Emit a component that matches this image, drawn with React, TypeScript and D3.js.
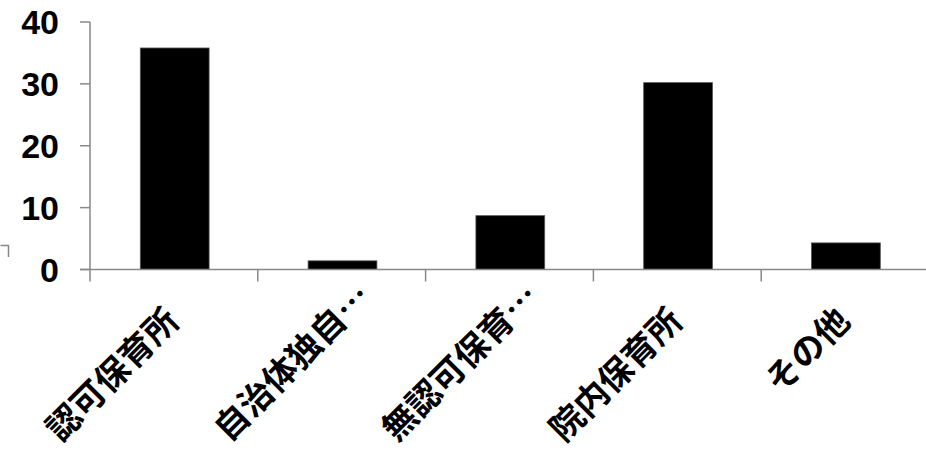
import React from "react";
import * as d3 from "d3";

const categories = ["認可保育所", "自治体独自…", "無認可保育…", "院内保育所", "その他"];
const values = [35.8, 1.4, 8.7, 30.2, 4.3];
const yTicks = [0, 10, 20, 30, 40];

const W = 926;
const H = 452;

export default function App() {
  const x = d3.scaleBand<string>().domain(categories).range([90, 90 + 5 * 167.8]).padding(0);
  const y = d3.scaleLinear().domain([0, 40]).range([269.5, 22]);
  const bw = x.bandwidth();
  const barW = bw * 0.41;
  const axisColor = "#888888";
  return (
    <svg width={W} height={H} style={{ position: "absolute", left: 0, top: 0, display: "block", background: "#fff" }}>
      <path d="M0.5,245.5 H8.5 V257" fill="none" stroke={axisColor} strokeWidth={1.5} />
      {categories.map((c, i) => (
        <rect
          key={c}
          x={(x(c) as number) + bw / 2 - barW / 2 + 0.8}
          y={y(values[i])}
          width={barW}
          height={y(0) - y(values[i])}
          fill="#000"
          stroke="#555"
          strokeWidth={0.8}
        />
      ))}
      <line x1={90} x2={90} y1={y(40)} y2={y(0)} stroke={axisColor} strokeWidth={1.5} />
      {yTicks.map((t) => (
        <g key={t}>
          <line x1={80} x2={90} y1={y(t)} y2={y(t)} stroke={axisColor} strokeWidth={1.5} />
          <text
            x={59}
            y={y(t) + 12}
            textAnchor="end"
            fontFamily="'Liberation Sans', Arial, sans-serif"
            fontWeight="bold"
            fontSize={34}
            fill="#000"
          >
            {t}
          </text>
        </g>
      ))}
      <line x1={80} x2={W} y1={y(0)} y2={y(0)} stroke={axisColor} strokeWidth={1.5} />
      {categories.map((c, i) => (
        <line
          key={"t" + i}
          x1={x(c) as number}
          x2={x(c) as number}
          y1={y(0)}
          y2={y(0) + 12}
          stroke={axisColor}
          strokeWidth={1.5}
        />
      ))}
      {categories.map((c) => {
        const center = (x(c) as number) + bw / 2;
        const truncated = c.endsWith("…");
        const sx = truncated ? center - 113 : center + 7;
        const sy = truncated ? 443 : 323;
        return (
          <g key={"l" + c} transform={`translate(${sx},${sy}) rotate(-45)`}>
            <text
              textAnchor={truncated ? "start" : "end"}
              fontFamily="'Noto Sans CJK JP', sans-serif"
              fontWeight={700}
              fontSize={34}
              fill="#000"
            >
              {c}
            </text>
          </g>
        );
      })}
    </svg>
  );
}
